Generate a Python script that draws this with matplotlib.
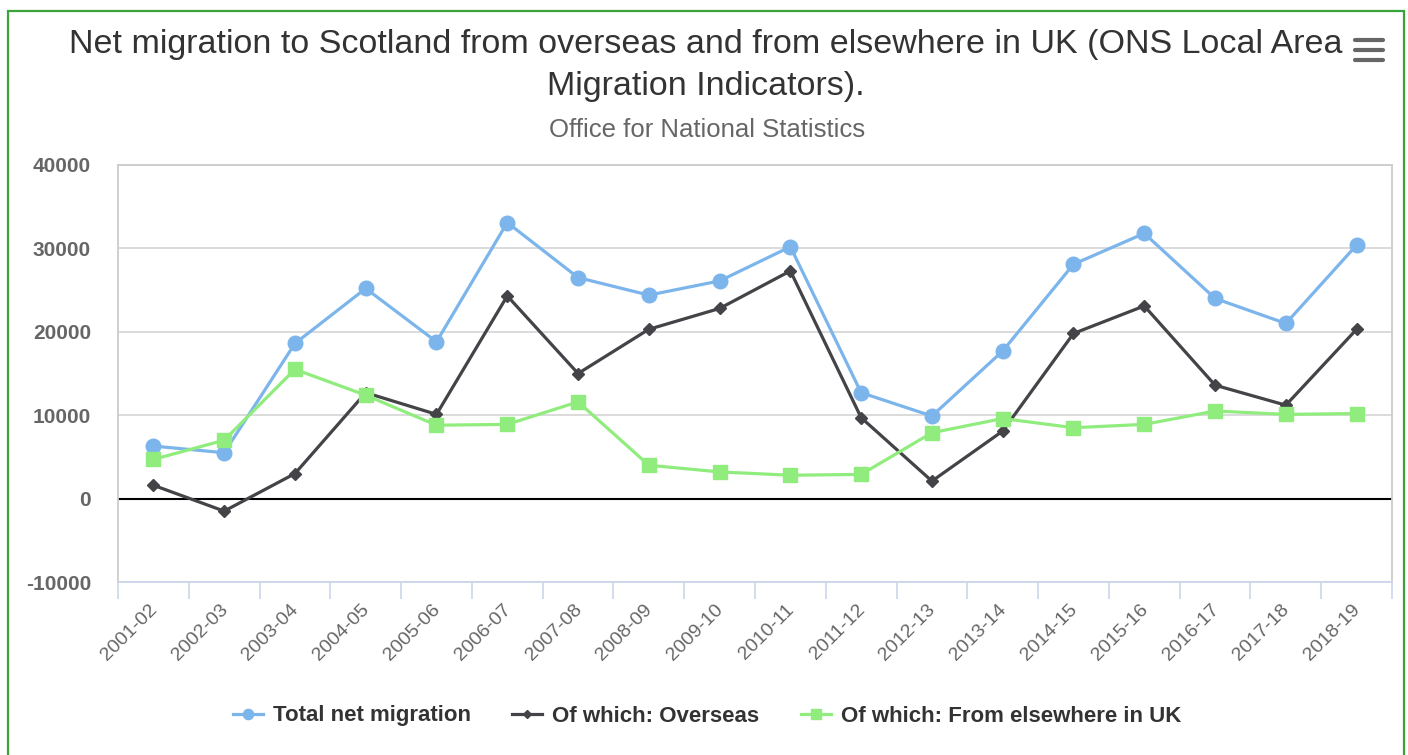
import matplotlib
matplotlib.use("Agg")
import matplotlib.pyplot as plt
from matplotlib.lines import Line2D
from matplotlib.patches import Rectangle
from matplotlib.transforms import ScaledTranslation

plt.rcParams['font.family'] = ['Liberation Sans', 'DejaVu Sans']

categories = ["2001-02", "2002-03", "2003-04", "2004-05", "2005-06", "2006-07",
              "2007-08", "2008-09", "2009-10", "2010-11", "2011-12", "2012-13",
              "2013-14", "2014-15", "2015-16", "2016-17", "2017-18", "2018-19"]
total = [6300, 5500, 18600, 25200, 18800, 33100, 26500, 24400, 26100, 30200,
         12700, 9900, 17700, 28100, 31800, 24000, 21000, 30400]
overseas = [1600, -1500, 3000, 12700, 10100, 24300, 15000, 20300, 22800, 27300,
            9700, 2100, 8100, 19800, 23100, 13600, 11200, 20300]
uk = [4700, 7000, 15500, 12400, 8800, 8900, 11600, 4000, 3200, 2800,
      2900, 7900, 9600, 8500, 8900, 10500, 10100, 10200]
yticks = [-10000, 0, 10000, 20000, 30000, 40000]

W, H = 1408, 755
fig = plt.figure(figsize=(W / 100, H / 100), dpi=100)

# outer green frame
fig.patches.append(Rectangle((8 / W, -0.01), (1404 - 8) / W, 1 - 11 / H + 0.01,
                             transform=fig.transFigure, fill=False,
                             edgecolor='#3aa33a', linewidth=1.6))

ax = fig.add_axes([118 / W, 1 - 582 / H, 1274 / W, (582 - 165) / H])
x = list(range(len(categories)))

ax.plot(x, total, color='#7cb5ec', lw=2.3, marker='o', ms=10.5, label='Total net migration', zorder=3)
ax.plot(x, overseas, color='#434348', lw=2.3, marker='D', ms=6.5, label='Of which: Overseas', zorder=4)
ax.plot(x, uk, color='#90ed7d', lw=2.3, marker='s', ms=10.5, label='Of which: From elsewhere in UK', zorder=5)

ax.axhline(0, color='black', lw=1.5, zorder=2)

ax.set_xlim(-0.5, len(categories) - 0.5)
ax.set_ylim(-10000, 40000)
ax.set_yticks(yticks)
ax.set_yticklabels([str(v) for v in yticks])
ax.yaxis.grid(True, color='#d8d8d8', lw=1.3)
ax.set_axisbelow(True)
ax.tick_params(axis='y', length=0, pad=19.5, labelsize=15, labelcolor='#666666')
for lab in ax.get_yticklabels():
    lab.set_fontweight('bold')

ax.set_xticks(x)
ax.set_xticklabels(categories, rotation=45, ha='right', va='center', rotation_mode='anchor')
ax.tick_params(axis='x', length=0, pad=18, labelsize=14, labelcolor='#666666')
offset = ScaledTranslation(1 / 100, 0, fig.dpi_scale_trans)
for lab in ax.get_xticklabels():
    lab.set_transform(lab.get_transform() + offset)
ax.set_xticks([i - 0.5 for i in range(len(categories) + 1)], minor=True)
ax.tick_params(axis='x', which='minor', length=12.5, width=1.2, color='#ccd6eb')

for side in ['left', 'top', 'right']:
    ax.spines[side].set_color('#cccccc')
    ax.spines[side].set_linewidth(1.3)
ax.spines['bottom'].set_color('#ccd6eb')
ax.spines['bottom'].set_linewidth(1.3)

fig.text(706 / W, 1 - 45 / H, "Net migration to Scotland from overseas and from elsewhere in UK (ONS Local Area",
         ha='center', va='center', fontsize=24.5, color='#333333')
fig.text(706 / W, 1 - 86 / H, "Migration Indicators).",
         ha='center', va='center', fontsize=24.5, color='#333333')
fig.text(707 / W, 1 - 130 / H, "Office for National Statistics",
         ha='center', va='center', fontsize=18.5, color='#666666')

# menu icon
for yy in (40, 50, 60):
    fig.add_artist(Line2D([1355 / W, 1383 / W], [1 - yy / H, 1 - yy / H], transform=fig.transFigure,
                          color='#666666', lw=3, solid_capstyle='round'))

leg = fig.legend(loc='center', bbox_to_anchor=(707 / W, 1 - 716 / H), ncol=3, frameon=False,
                 prop={'weight': 'bold', 'size': 16}, handlelength=1.36, columnspacing=1.86,
                 handletextpad=0.45, markerscale=0.7)
for t in leg.get_texts():
    t.set_color('#333333')

fig.savefig('out.png', dpi=100)
